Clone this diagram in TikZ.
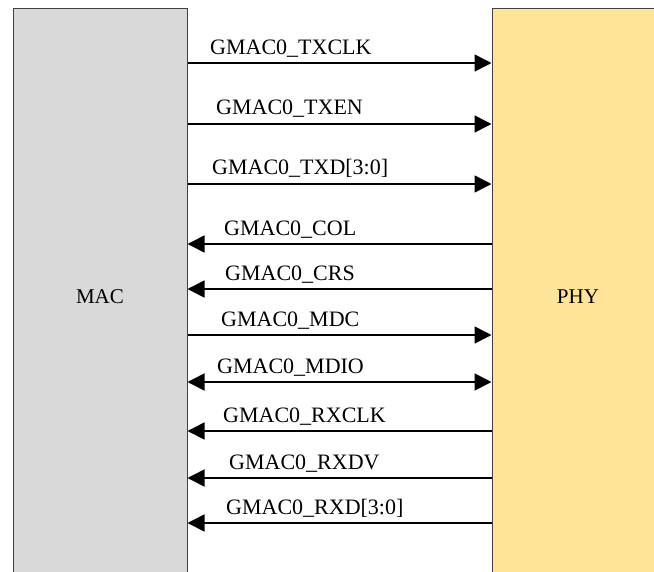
\documentclass[tikz,border=0pt]{standalone}
\usepackage{fontspec}
\setmainfont{Liberation Serif}
\usetikzlibrary{arrows.meta}
\definecolor{macgray}{HTML}{D9D9D9}
\definecolor{phyyellow}{HTML}{FFE399}
\definecolor{edgegray}{HTML}{404040}
\begin{document}
\begin{tikzpicture}[x=1pt,y=-1pt,
  blockbox/.style={draw=edgegray,line width=1pt,inner sep=0pt,font=\fontsize{21}{24}\selectfont},
  sig/.style={line width=1.6pt,black},
  tip/.style={-{Triangle[length=17pt,width=17pt]}},
  bitip/.style={{Triangle[length=17pt,width=17pt]}-{Triangle[length=17pt,width=17pt]}},
  siglabel/.style={anchor=base west,inner sep=0pt,font=\fontsize{22}{26}\selectfont}]
\useasboundingbox (0,0) rectangle (654,571);
\clip (0,0) rectangle (654,571);
\node[blockbox,fill=macgray,minimum width=174pt,minimum height=577pt] (MAC) at (100,297) {MAC};
\node[blockbox,fill=phyyellow,minimum width=180pt,minimum height=577pt] (PHY) at (582,297) {};
\node[font=\fontsize{21}{24}\selectfont] (phylabel) at (578,297) {PHY};
% TX (MAC -> PHY)
\draw[sig,tip] (MAC.east |- 0,63) -- (PHY.west |- 0,63);
\node[siglabel] (l1) at (210,54) {GMAC0\_TXCLK};
\draw[sig,tip] (MAC.east |- 0,124) -- (PHY.west |- 0,124);
\node[siglabel] (l2) at (216,114.5) {GMAC0\_TXEN};
\draw[sig,tip] (MAC.east |- 0,184) -- (PHY.west |- 0,184);
\node[siglabel] (l3) at (212,174.5) {GMAC0\_TXD[3:0]};
% PHY -> MAC
\draw[sig,tip] (PHY.west |- 0,244) -- (MAC.east |- 0,244);
\node[siglabel] (l4) at (224,235.5) {GMAC0\_COL};
\draw[sig,tip] (PHY.west |- 0,289) -- (MAC.east |- 0,289);
\node[siglabel] (l5) at (225,280.5) {GMAC0\_CRS};
\draw[sig,tip] (MAC.east |- 0,335) -- (PHY.west |- 0,335);
\node[siglabel] (l6) at (221,326.5) {GMAC0\_MDC};
\draw[sig,bitip] (MAC.east |- 0,382) -- (PHY.west |- 0,382);
\node[siglabel] (l7) at (217,373.5) {GMAC0\_MDIO};
\draw[sig,tip] (PHY.west |- 0,431) -- (MAC.east |- 0,431);
\node[siglabel] (l8) at (223,422.5) {GMAC0\_RXCLK};
\draw[sig,tip] (PHY.west |- 0,478) -- (MAC.east |- 0,478);
\node[siglabel] (l9) at (229,469.5) {GMAC0\_RXDV};
\draw[sig,tip] (PHY.west |- 0,523) -- (MAC.east |- 0,523);
\node[siglabel] (l10) at (226,514.5) {GMAC0\_RXD[3:0]};
\end{tikzpicture}
\end{document}
